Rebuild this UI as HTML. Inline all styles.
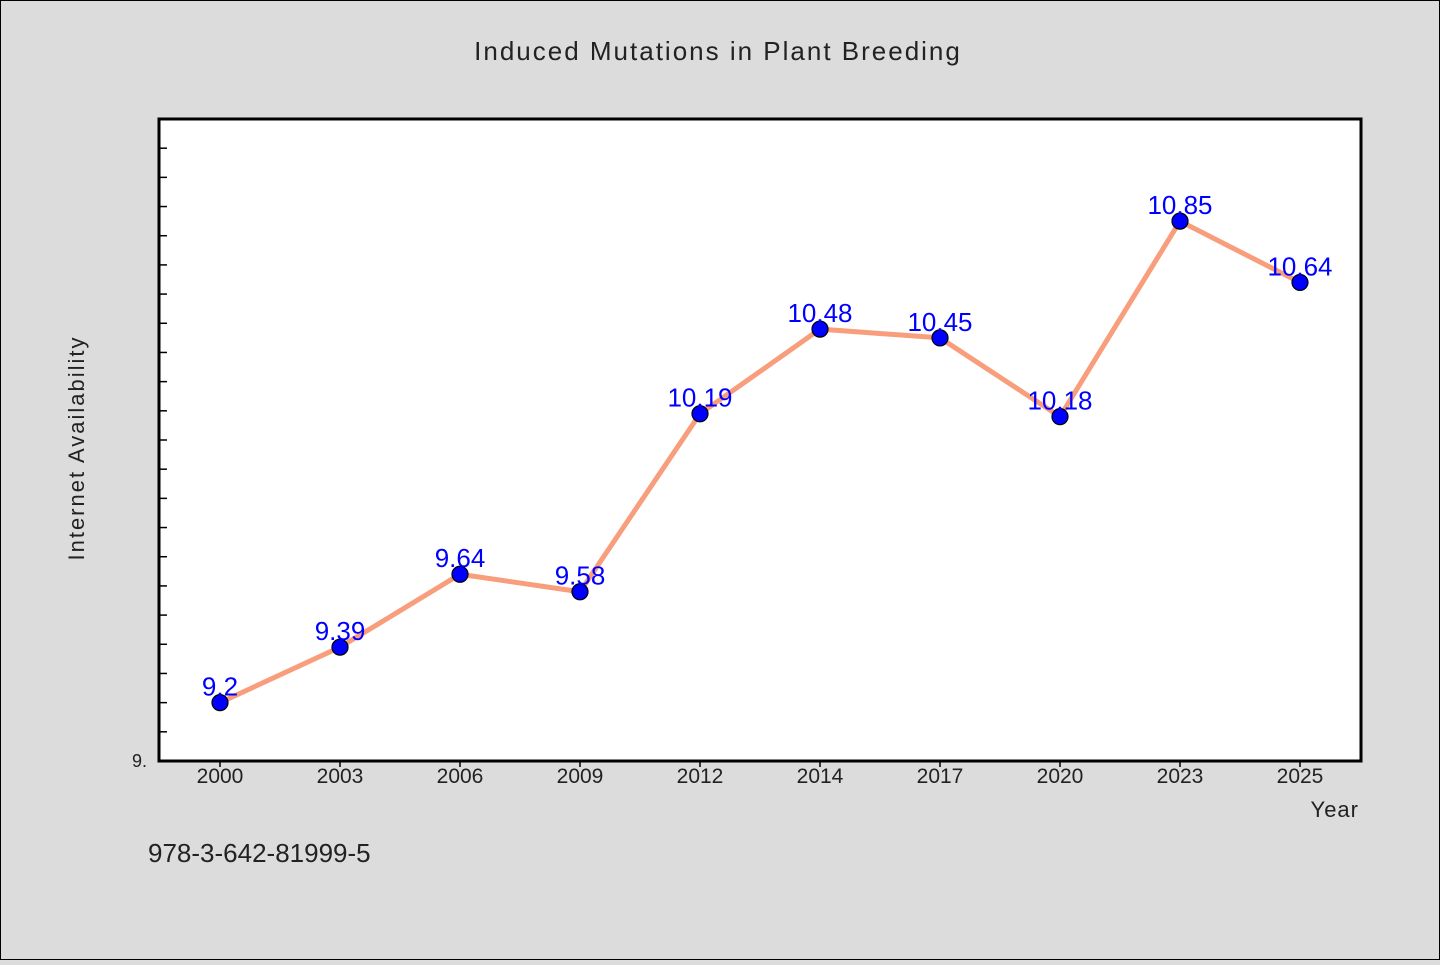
<!DOCTYPE html>
<html><head><meta charset="utf-8"><style>
body{margin:0;background:#dcdcdc;}
svg text{font-family:"WenQuanYi Zen Hei","Liberation Sans",sans-serif;}
</style></head><body>
<svg width="1440" height="960" xmlns="http://www.w3.org/2000/svg">
<rect x="0.5" y="0.5" width="1439" height="959" fill="#dcdcdc" stroke="#000"/>
<text x="718" y="60" text-anchor="middle" font-size="26" fill="#222" letter-spacing="2">Induced Mutations in Plant Breeding</text>
<rect x="159" y="119" width="1202" height="642" fill="#fff"/>
<g id="ticks"></g>
<g id="series"></g>
<rect x="159" y="119" width="1202" height="642" fill="none" stroke="#000" stroke-width="3"/>
<text x="147" y="767" text-anchor="end" font-size="18" fill="#222">9.</text>
<text x="84" y="448" text-anchor="middle" font-size="22" fill="#222" letter-spacing="2" transform="rotate(-90 84 448)">Internet Availability</text>
<text x="1359" y="817" text-anchor="end" font-size="22" fill="#222" letter-spacing="1">Year</text>
<text x="148" y="862" font-size="26" fill="#222">978-3-642-81999-5</text>
</svg>
<script>
const categories=["2000","2003","2006","2009","2012","2014","2017","2020","2023","2025"];
const values=[9.2,9.39,9.64,9.58,10.19,10.48,10.45,10.18,10.85,10.64];
const labels=["9.2","9.39","9.64","9.58","10.19","10.48","10.45","10.18","10.85","10.64"];
const yMin=9.0,yMax=11.2;
const NS="http://www.w3.org/2000/svg";
function xs(i){return 220+i*120;}
function ys(v){return 761-(v-yMin)/(yMax-yMin)*642;}
function mk(t,a,p){const e=document.createElementNS(NS,t);for(const k in a)e.setAttribute(k,a[k]);p.appendChild(e);return e;}
const tg=document.getElementById('ticks'),sg=document.getElementById('series');
for(let k=1;k<=21;k++){const y=ys(yMin+k*0.1);
const l=mk('line',{x1:159,x2:167,y1:y,y2:y,stroke:'#000','stroke-width':1.5},tg);

}
categories.forEach((c,i)=>{
const l=mk('line',{x1:xs(i),x2:xs(i),y1:761,y2:767,stroke:'#000','stroke-width':1.5},tg);


const t=mk('text',{x:xs(i),y:783,'text-anchor':'middle','font-size':21,fill:'#222'},tg);t.textContent=c;


});
const pl=mk('polyline',{points:values.map((v,i)=>xs(i)+','+ys(v)).join(' '),fill:'none',stroke:'#f89e7c','stroke-width':5},sg);


values.forEach((v,i)=>{
const c=mk('circle',{cx:xs(i),cy:ys(v),r:8,fill:'#0000ff',stroke:'#000','stroke-width':1.2},sg);


const t=mk('text',{x:xs(i),y:ys(v)-7,'text-anchor':'middle','font-size':26,fill:'#0000ff'},sg);t.textContent=labels[i];


});
</script>
</body></html>
